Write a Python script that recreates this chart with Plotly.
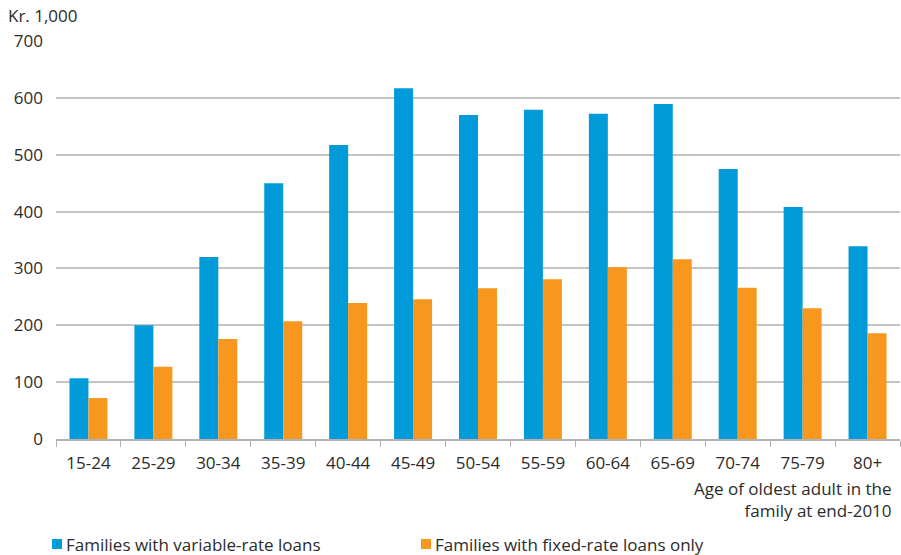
import plotly.graph_objects as go

# Age groups of the oldest adult in the family
age_groups = ["15-24", "25-29", "30-34", "35-39", "40-44", "45-49", "50-54",
              "55-59", "60-64", "65-69", "70-74", "75-79", "80+"]

# Debt, kr. 1,000
variable_rate = [107, 200, 320, 450, 517, 617, 570, 579, 572, 589, 475, 408, 339]
fixed_rate_only = [72, 127, 176, 207, 239, 246, 265, 281, 302, 316, 266, 230, 186]

series_names = ["Families with variable-rate loans", "Families with fixed-rate loans only"]

y_ticks = [0, 100, 200, 300, 400, 500, 600, 700]

BLUE = "#009bd8"
ORANGE = "#f7971e"
TEXT = "#2b2b2b"
FONT = "Open Sans"
SIZE = 17

W, H = 901, 555
M = dict(l=56, r=1, t=41, b=116)
PW = W - M["l"] - M["r"]
PH = H - M["t"] - M["b"]


def px_x(px):
    """Page pixel x -> paper coordinate."""
    return (px - M["l"]) / PW


def px_y(py):
    """Page pixel y (from top) -> paper coordinate."""
    return (H - M["b"] - py) / PH


fig = go.Figure()
for name, vals, col in [(series_names[0], variable_rate, BLUE),
                        (series_names[1], fixed_rate_only, ORANGE)]:
    fig.add_trace(go.Bar(x=age_groups, y=vals, name=name,
                         marker=dict(color=col, line=dict(width=0))))

fig.update_layout(
    width=W, height=H, margin=M,
    paper_bgcolor="white", plot_bgcolor="white",
    barmode="group", bargap=0.415, bargroupgap=0,
    font=dict(family=FONT, size=SIZE, color=TEXT),
    showlegend=False,
)

fig.update_xaxes(
    type="category", showgrid=False,
    showline=True, linecolor="#b3b3b3", linewidth=2,
    ticks="outside", ticklen=6, tickcolor="#b3b3b3", tickwidth=1,
    tickson="boundaries", ticklabelstandoff=8,
    tickfont=dict(family=FONT, size=SIZE, color=TEXT),
)
fig.update_yaxes(
    range=[0, 700], tickvals=y_ticks,
    showgrid=True, gridcolor="#c4c4c4", gridwidth=1.5,
    zeroline=False, showline=False, ticks="",
    ticklabelstandoff=12,
    tickfont=dict(family=FONT, size=SIZE, color=TEXT),
)

# Unit label above the value axis
fig.add_annotation(text="Kr. 1,000", xref="paper", yref="paper",
                   x=px_x(6), y=px_y(15), xanchor="left", yanchor="middle",
                   showarrow=False, font=dict(family=FONT, size=SIZE, color=TEXT))

# Category axis title, right-aligned under the last labels
fig.add_annotation(text="Age of oldest adult in the<br>family at end-2010",
                   xref="paper", yref="paper", x=px_x(894), y=px_y(475),
                   xanchor="right", yanchor="top", align="right", showarrow=False,
                   font=dict(family=FONT, size=SIZE, color=TEXT))

# Legend row: colour key square followed by series name
for name, col, sq_left in [(series_names[0], BLUE, 52), (series_names[1], ORANGE, 421)]:
    fig.add_shape(type="rect", xref="paper", yref="paper",
                  x0=px_x(sq_left), x1=px_x(sq_left + 10),
                  y0=px_y(549), y1=px_y(539),
                  fillcolor=col, line=dict(width=0))
    fig.add_annotation(text=name, xref="paper", yref="paper",
                       x=px_x(sq_left + 12), y=px_y(544),
                       xanchor="left", yanchor="middle", showarrow=False,
                       font=dict(family=FONT, size=SIZE, color=TEXT))

fig.write_html("out.html")
